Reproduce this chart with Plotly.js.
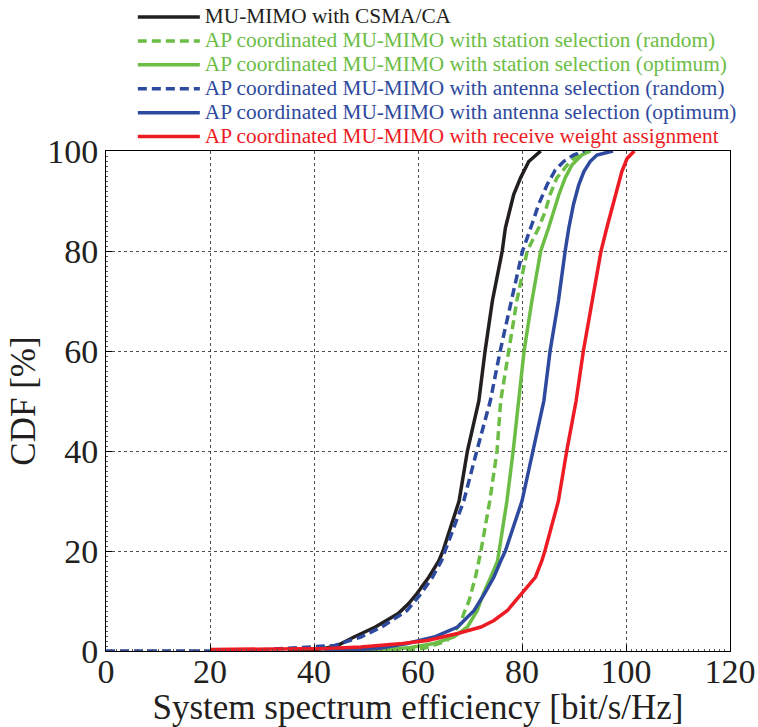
<!DOCTYPE html>
<html>
<head>
<meta charset="utf-8">
<script src="https://cdn.plot.ly/plotly-3.0.1.min.js"></script>
<style>html,body{margin:0;padding:0;background:#fff;}#chart{width:758px;height:727px;}</style>
</head>
<body>
<div id="chart"></div>
<script>
// Series names
const names = [
  "MU-MIMO with CSMA/CA",
  "AP coordinated MU-MIMO with station selection (random)",
  "AP coordinated MU-MIMO with station selection (optimum)",
  "AP coordinated MU-MIMO with antenna selection (random)",
  "AP coordinated MU-MIMO with antenna selection (optimum)",
  "AP coordinated MU-MIMO with receive weight assignment"
];

// MU-MIMO with CSMA/CA
const csmaX = [35, 40, 42, 44.5, 47.7, 51.8, 56.2, 58.2, 59.8, 62.1, 64.0, 64.8, 67.9, 69.5, 71.7, 72.9, 74.3, 76.2, 76.8, 77.6, 78.4, 79.7, 81.3, 83.6];
const csmaY = [0, 0.2, 0.5, 1.1, 2.8, 4.8, 7.5, 9.5, 11.5, 14.8, 18, 20, 30, 40, 50, 60, 70, 80, 84.6, 88, 91.3, 94.6, 97.9, 100];

// Station selection (random)
const staRandX = [55, 61, 65.5, 68.2, 68.8, 69.8, 71.1, 72.1, 73.8, 75.2, 75.9, 77.4, 79.0, 81.0, 83.2, 84.5, 85.4, 86.7, 88.7, 90.6, 92.5];
const staRandY = [0, 0.5, 2, 5.5, 7.5, 10, 15, 20, 30, 40, 50, 60, 70, 80, 84.6, 88, 91.3, 94.6, 97.2, 99.2, 100];

// Station selection (optimum)
const staOptX = [48, 51.5, 58.6, 63.1, 66.9, 69.5, 71.4, 72.6, 74.0, 75.3, 75.6, 77.1, 78.3, 79.3, 80.4, 81.9, 83.6, 85.1, 86.1, 87.1, 88.3, 89.6, 91.5, 93.2];
const staOptY = [0, 0.1, 0.7, 1.5, 2.8, 4.8, 8.1, 11.5, 14.8, 18, 20, 30, 40, 50, 60, 70, 80, 84.6, 88, 91.3, 94.6, 97.2, 99.2, 100];

// Antenna selection (random)
const antRandX = [0, 25, 31, 37.4, 44, 49, 53, 57.9, 60.6, 62.8, 64.5, 65.2, 68.8, 71.3, 73.9, 75.8, 77.9, 80.1, 81.9, 83.2, 84.8, 86.4, 88.0, 89.9, 92];
const antRandY = [0, 0, 0.3, 0.7, 1.1, 2.8, 4.8, 8.1, 11.5, 14.8, 18, 20, 30, 40, 50, 60, 70, 80, 85.3, 89.3, 93.2, 96.2, 97.9, 99.2, 100];

// Antenna selection (optimum)
const antOptX = [42, 52.2, 57.9, 63.1, 67.6, 70.8, 72.8, 74.6, 75.9, 76.8, 80.0, 82.1, 84.2, 85.4, 87.0, 88.3, 89.0, 89.9, 90.9, 91.9, 93.1, 94.4, 97.5];
const antOptY = [0, 0.5, 1.5, 2.8, 4.8, 8.1, 11.5, 14.8, 18, 20, 30, 40, 50, 60, 70, 80, 84.6, 89.3, 93.2, 95.9, 97.9, 99.2, 100];

// Receive weight assignment
const rwaX = [20, 35, 42.6, 49, 57, 61.8, 67.6, 72.1, 74.6, 77.2, 80.0, 82.6, 83.8, 84.4, 87.0, 88.6, 90.4, 91.8, 93.5, 95.2, 96.3, 97.5, 98.3, 99.2, 100.2, 101.6];
const rwaY = [0.3, 0.4, 0.5, 0.8, 1.5, 2.1, 3.5, 4.8, 6.1, 8.1, 11.5, 14.8, 18, 20, 30, 40, 50, 60, 70, 80, 84.6, 89.3, 92.6, 95.9, 98.5, 100];

const xTicks = [0, 20, 40, 60, 80, 100, 120];
const yTicks = [0, 20, 40, 60, 80, 100];

const cBlack = "#231f20", cGreen = "#6cbd45", cBlue = "#2e4a9e", cRed = "#ed1c24";
const series = [
  {x: csmaX, y: csmaY, color: cBlack, dash: "solid"},
  {x: staRandX, y: staRandY, color: cGreen, dash: "9px,5px"},
  {x: staOptX, y: staOptY, color: cGreen, dash: "solid"},
  {x: antRandX, y: antRandY, color: cBlue, dash: "9px,5px"},
  {x: antOptX, y: antOptY, color: cBlue, dash: "solid"},
  {x: rwaX, y: rwaY, color: cRed, dash: "solid"}
];

const traces = series.map((s, i) => ({
  x: s.x, y: s.y, type: "scatter", mode: "lines",
  name: '<span style="color:' + s.color + ';font-size:21.3px">' + names[i] + '</span>',
  line: {color: s.color, width: 3.5, dash: s.dash},
  hoverinfo: "skip"
}));

const fontFam = "Liberation Serif, Times New Roman, serif";
const axisCommon = {
  showline: true, linecolor: "#000", linewidth: 1, mirror: true,
  ticks: "inside", ticklen: 6, tickcolor: "#000", tickwidth: 1,
  showgrid: true, gridcolor: "#222", gridwidth: 0.8, griddash: "3px,3px",
  zeroline: false, automargin: false,
  tickfont: {family: fontFam, size: 34, color: "#231f20"},
  minor: {ticks: "inside", ticklen: 2, tickcolor: "#555", dtick: 1, showgrid: false}
};

const layout = {
  width: 758, height: 727,
  margin: {l: 106, r: 28, t: 151, b: 76, autoexpand: false},
  paper_bgcolor: "#fff", plot_bgcolor: "#fff",
  font: {family: fontFam, color: "#231f20"},
  showlegend: true,
  legend: {
    x: 0.043, xanchor: "left", y: 1.302, yanchor: "top",
    bgcolor: "rgba(0,0,0,0)", borderwidth: 0,
    font: {family: fontFam, size: 16.1},
    itemwidth: 62,
    tracegroupgap: 0
  },
  xaxis: Object.assign({}, axisCommon, {
    range: [0, 120], tickvals: xTicks, ticktext: xTicks.map(String),
    ticklabelstandoff: -10,
    title: {text: "System spectrum efficiency [bit/s/Hz]", font: {family: fontFam, size: 35, color: "#231f20"}, standoff: 2}
  }),
  yaxis: Object.assign({}, axisCommon, {
    range: [0, 100], tickvals: yTicks, ticktext: yTicks.map(String),
    title: {text: "CDF [%]", font: {family: fontFam, size: 35, color: "#231f20"}, standoff: 0}
  })
};

Plotly.newPlot("chart", traces, layout, {displayModeBar: false, staticPlot: true});
</script>
</body>
</html>
